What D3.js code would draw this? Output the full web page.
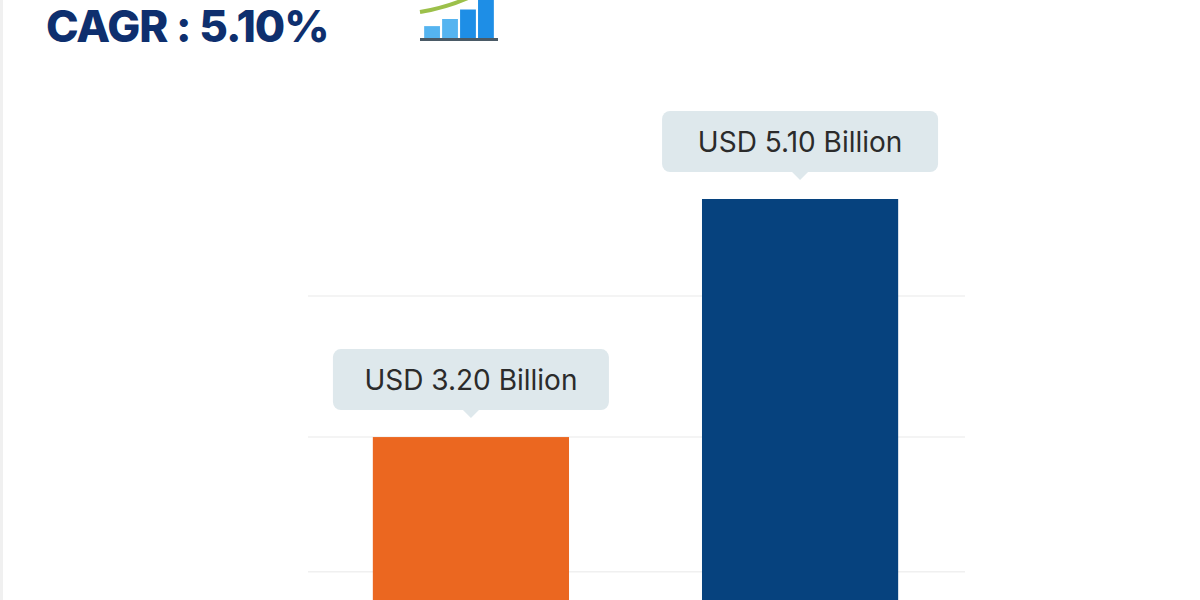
<html>
<head>
  <meta charset="utf-8" />
  <script src="https://cdnjs.cloudflare.com/ajax/libs/d3/7.8.5/d3.min.js"></script>
  <style>
    body { margin: 0; background: #fff; }
  </style>
</head>
<body>
  <svg></svg>
  <script>
    var years  = ["2024", "2033"]
    var values = [3.20, 5.10]
    var labels = ["USD 3.20 Billion", "USD 5.10 Billion"]
    var colors = ["#eb6720", "#06427e"]
    var gridValues = [2.125, 3.2, 4.325]
    var iconBars = [1, 1.6, 2.4, 3.2]

    var svg = d3.select("svg").attr("width", 1200).attr("height", 600)

    svg.append("rect").attr("x", 0).attr("y", 0).attr("width", 3).attr("height", 600).attr("fill", "#f0f0f0")

    var x = d3.scaleBand().domain(years).range([307, 964]).paddingInner(0.404).paddingOuter(0.2)
    var y = d3.scaleLinear().domain([0, 5.1]).range([838, 199])

    svg.selectAll("line.grid").data(gridValues).enter().append("line")
      .attr("x1", 308).attr("x2", 965)
      .attr("y1", d => y(d)).attr("y2", d => y(d))
      .attr("stroke", "#f0f0f0").attr("stroke-width", 1.5)

    svg.selectAll("rect.bar").data(values).enter().append("rect")
      .attr("x", (d, i) => x(years[i]))
      .attr("y", d => y(d))
      .attr("width", x.bandwidth())
      .attr("height", d => 838 - y(d))
      .attr("fill", (d, i) => colors[i])

    var lab = svg.selectAll("g.lab").data(values).enter().append("g")
      .attr("transform", (d, i) => `translate(${x(years[i]) + x.bandwidth() / 2},${y(d) - 15})`)

    lab.append("rect")
      .attr("x", (d, i) => -138).attr("y", -73).attr("width", 276).attr("height", 61)
      .attr("rx", 8).attr("fill", "#dee8ec")
    lab.append("path").attr("d", "M-8,-12 L0,-4 L8,-12 Z").attr("fill", "#dee8ec")
    lab.append("text")
      .attr("text-anchor", "middle").attr("y", -32)
      .attr("font-family", "Inter, 'Open Sans', sans-serif").attr("font-size", 28)
      .attr("fill", "#2b2b2b")
      .text((d, i) => labels[i])

    svg.append("text").attr("x", 46).attr("y", 42)
      .attr("font-family", "Inter, 'Open Sans', sans-serif").attr("font-weight", 800)
      .attr("font-size", 44).attr("fill", "#0e2f6e").attr("letter-spacing", -1)
      .text("CAGR : 5.10%")

    // icon
    var icon = svg.append("g").attr("transform", "translate(420,0)")
    var ib = d3.scaleBand().domain(d3.range(iconBars.length)).range([2, 76]).padding(0.12)
    var iy = d3.scaleLinear().domain([0, 3.2]).range([38, 0])
    icon.selectAll("rect").data(iconBars).enter().append("rect")
      .attr("x", (d, i) => ib(i)).attr("y", d => iy(d))
      .attr("width", ib.bandwidth()).attr("height", d => 38 - iy(d))
      .attr("fill", (d, i) => i < 2 ? "#55b4f0" : "#1e8ee6")
    icon.append("path").attr("d", "M0,12 Q25,8 48,-2").attr("stroke", "#9cc04a").attr("stroke-width", 4).attr("fill", "none")
    icon.append("rect").attr("x", 0).attr("y", 38).attr("width", 78).attr("height", 3).attr("fill", "#4a5a66")
  </script>
</body>
</html>
